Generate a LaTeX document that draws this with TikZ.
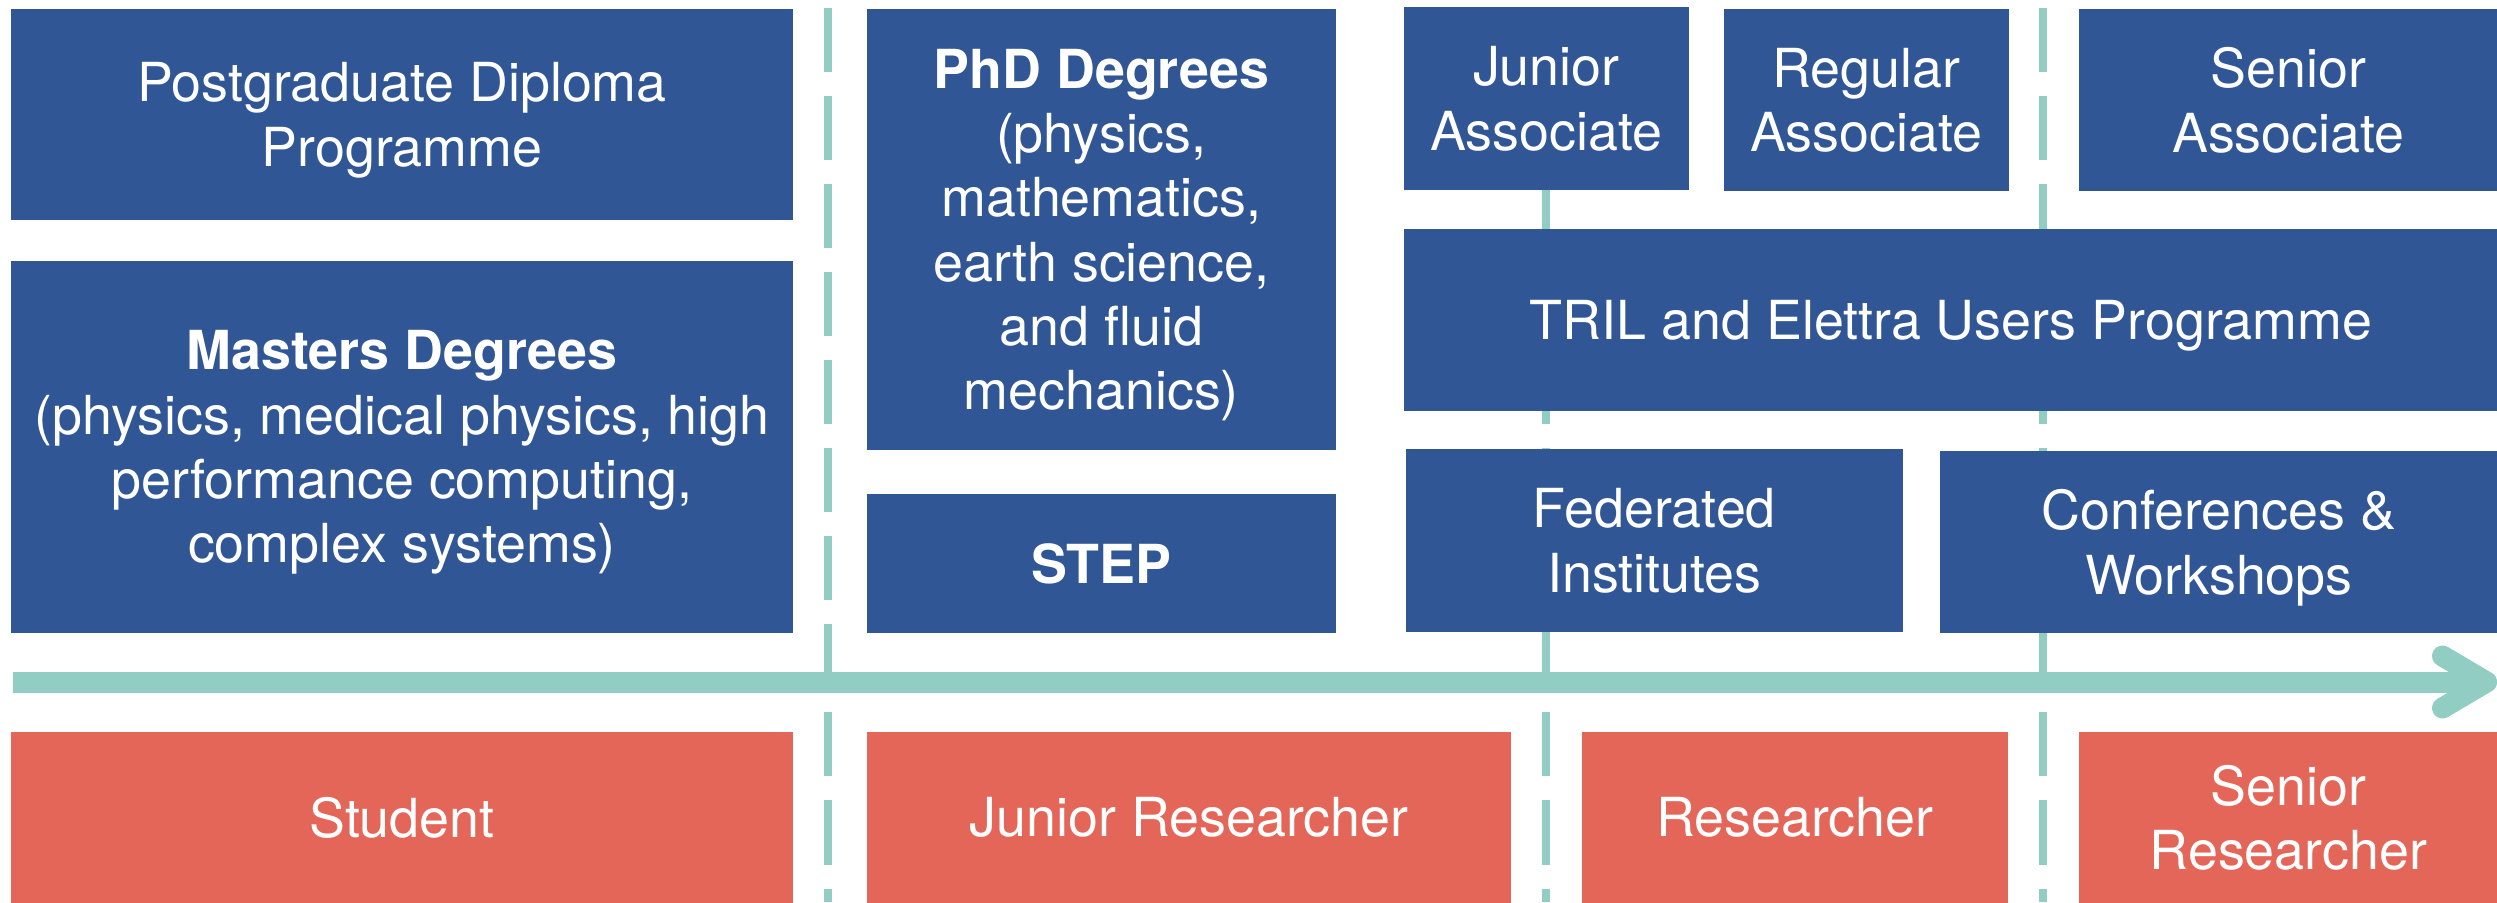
\documentclass[tikz,border=0pt]{standalone}
\usepackage{fontspec}
\setmainfont{TeX Gyre Heros}
\usetikzlibrary{arrows.meta}
\definecolor{boxblue}{RGB}{48,86,150}
\definecolor{boxred}{RGB}{228,102,89}
\definecolor{lineteal}{RGB}{146,205,196}
\begin{document}
\begin{tikzpicture}
[x=0.01cm,y=-0.01cm,
 bluebox/.style={fill=boxblue,text=white,inner sep=0pt,align=center,anchor=north west,
   text depth=0pt,font=\fontsize{15.3}{18.3}\selectfont},
 redbox/.style={bluebox,fill=boxred},
 stageline/.style={lineteal,line width=0.08cm,dash pattern=on 0.64cm off 0.24cm},
 timeaxis/.style={lineteal,line width=0.21cm,-{Straight Barb[length=0.44cm,width=0.52cm,round]}}]
\useasboundingbox (0,0) rectangle (2497,902);
%% stage separators
\foreach \x in {828,1546,2043}
{
  \draw[stageline] (\x,8) -- (\x,902);
}
%% time axis
\coordinate (axisstart) at (13,682);
\coordinate (axisend) at (2497,682);
\draw[timeaxis] (axisstart) -- (axisend);
%% programmes
\node[bluebox,minimum width=7.82cm,minimum height=2.11cm] (postgrad) at (10,8)
  {Postgraduate Diploma\\Programme};
\node[bluebox,minimum width=7.82cm,minimum height=3.72cm] (masters) at (10,260)
  {\textbf{Masters Degrees}\\(physics, medical physics, high\\performance computing,\\complex systems)};
\node[bluebox,minimum width=4.69cm,minimum height=4.41cm] (phd) at (866,8)
  {\textbf{PhD Degrees}\\(physics,\\mathematics,\\earth science,\\and fluid\\mechanics)};
\node[bluebox,minimum width=4.69cm,minimum height=1.39cm] (stepbox) at (866,493)
  {\textbf{STEP}};
\node[bluebox,minimum width=2.85cm,minimum height=1.83cm] (junassoc) at (1403,6)
  {Junior\\Associate};
\node[bluebox,minimum width=2.85cm,minimum height=1.82cm] (regassoc) at (1723,8)
  {Regular\\Associate};
\node[bluebox,minimum width=4.19cm,minimum height=1.82cm] (senassoc) at (2078,8)
  {Senior\\Associate};
\node[bluebox,minimum width=10.94cm,minimum height=1.82cm] (tril) at (1403,228)
  {TRIL and Elettra Users Programme};
\node[bluebox,minimum width=4.97cm,minimum height=1.83cm] (federated) at (1405,448)
  {Federated\\Institutes};
\node[bluebox,minimum width=5.58cm,minimum height=1.82cm] (conferences) at (1939,450)
  {Conferences \&\\Workshops};
%% career stages
\node[redbox,minimum width=7.82cm,minimum height=1.71cm] (student) at (10,731)
  {Student};
\node[redbox,minimum width=6.44cm,minimum height=1.71cm] (junres) at (866,731)
  {Junior Researcher};
\node[redbox,minimum width=4.26cm,minimum height=1.71cm] (researcher) at (1581,731)
  {Researcher};
\node[redbox,minimum width=4.19cm,minimum height=1.71cm] (senres) at (2078,731)
  {Senior\\Researcher};
\end{tikzpicture}
\end{document}
